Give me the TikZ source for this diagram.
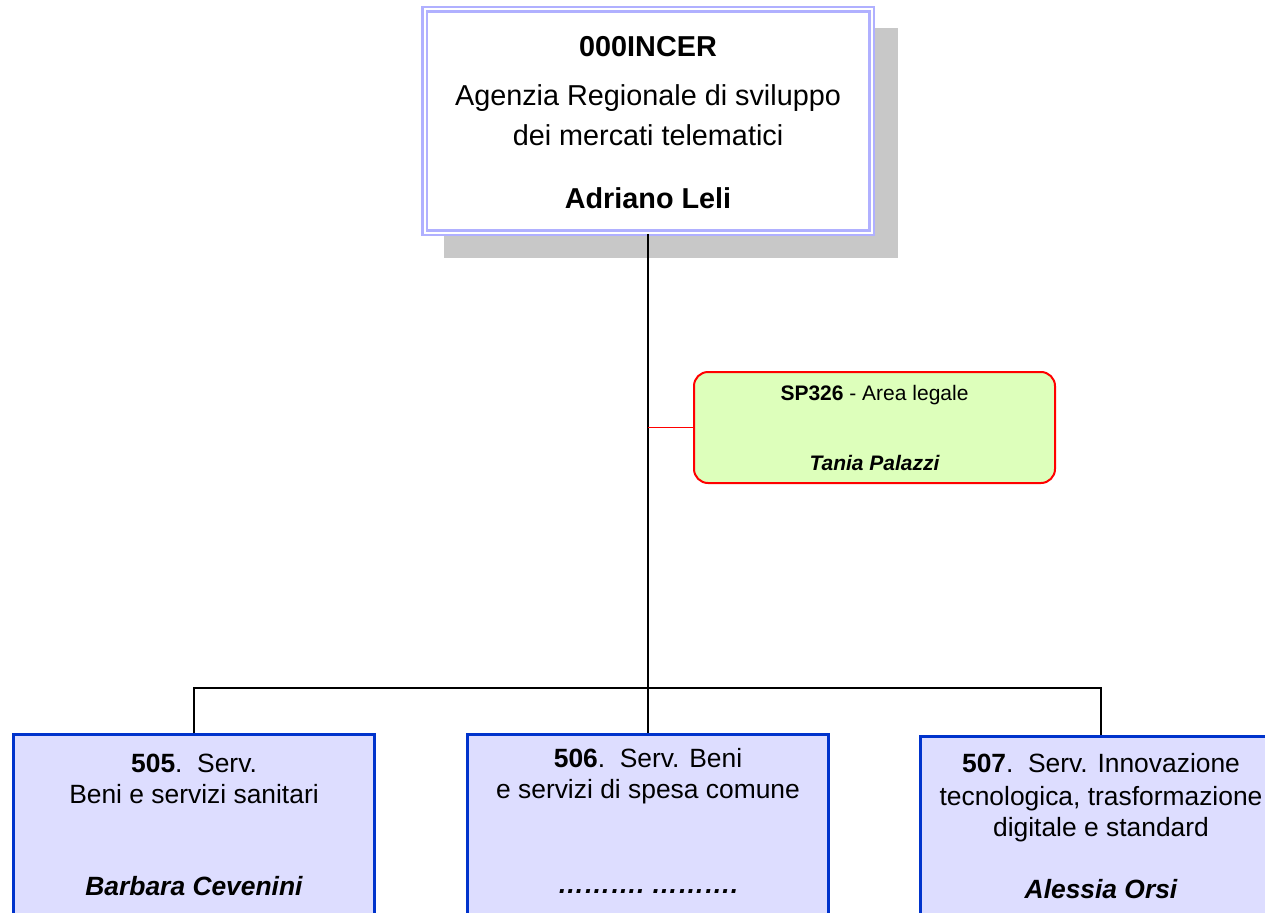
\documentclass[tikz,border=0pt]{standalone}
\usepackage{fontspec}
\setmainfont{Liberation Sans}
\definecolor{topline}{RGB}{176,176,255}
\definecolor{shadowgray}{RGB}{200,200,200}
\definecolor{legalfill}{RGB}{221,255,187}
\definecolor{legalline}{RGB}{255,0,0}
\definecolor{servline}{RGB}{0,51,204}
\definecolor{servfill}{RGB}{221,221,255}
\begin{document}
\begin{tikzpicture}[x=1pt,y=-1pt,
  shadowbox/.style={fill=shadowgray, minimum width=454pt, minimum height=230pt, inner sep=0pt},
  topbox/.style={draw=topline, double=white, double distance=2pt, line width=2.5pt, fill=white,
    minimum width=447pt, minimum height=223pt, inner sep=0pt},
  legalbox/.style={draw=legalline, line width=2pt, fill=legalfill, rounded corners=14pt,
    minimum width=361pt, minimum height=111pt, inner sep=0pt},
  servbox/.style={draw=servline, line width=3pt, fill=servfill,
    minimum width=361pt, minimum height=220pt, inner sep=0pt},
  toptxt/.style={anchor=base, inner sep=0pt, font=\fontsize{28.8}{34}\selectfont},
  legaltxt/.style={anchor=base, inner sep=0pt, font=\fontsize{21}{25}\selectfont},
  servtxt/.style={anchor=base, inner sep=0pt, font=\fontsize{26.4}{31}\selectfont},
  conn/.style={draw=black, line width=1.5pt},
  legalconn/.style={draw=legalline, line width=1.5pt}]
\useasboundingbox (0,0) rectangle (1265,912);

% top box with shadow
\node[shadowbox] (topshadow) at (671,143) {};
\node[topbox] (top) at (648,121) {};
\node[toptxt] (t1) at (648,57) {\bfseries 000INCER};
\node[toptxt] (t2) at (648,105.5) {Agenzia Regionale di sviluppo};
\node[toptxt] (t3) at (648,145.5) {dei mercati telematici};
\node[toptxt] (t4) at (648,208) {\bfseries Adriano Leli};

% staff box
\node[legalbox] (legal) at (874.5,427.5) {};
\node[legaltxt] (l1) at (874.5,400) {\bfseries SP326\mdseries{} - Area legale};
\node[legaltxt] (l2) at (874.5,470) {\bfseries\itshape Tania Palazzi};

% service boxes
\node[servbox] (s505) at (194,844.5) {};
\node[servbox] (s506) at (648,844.5) {};
\node[servbox] (s507) at (1101,846.5) {};

\node[servtxt] (a1) at (194,772) {\bfseries 505\mdseries.\ \ Serv.};
\node[servtxt] (a2) at (194,803) {Beni e servizi sanitari};
\node[servtxt] (a3) at (194,895) {\bfseries\itshape Barbara Cevenini};

\node[servtxt] (b1) at (648,767) {\bfseries 506\mdseries.\ \ Serv. Beni};
\node[servtxt] (b2) at (648,798) {e servizi di spesa comune};
\node[servtxt] (b3) at (648,893) {\bfseries\itshape ……….\ ……….};

\node[servtxt] (c1) at (1101,772) {\bfseries 507\mdseries.\ \ Serv. Innovazione};
\node[servtxt] (c2) at (1101,805) {tecnologica, trasformazione};
\node[servtxt] (c3) at (1101,836) {digitale e standard};
\node[servtxt] (c4) at (1101,898) {\bfseries\itshape Alessia Orsi};

% connectors
\coordinate (bar) at (648,688);
\coordinate (tap) at (648,427.5);
\path[conn] (top.south) -- (s506.north);
\path[conn] (s505.north) |- (bar) -| (s507.north);
\path[legalconn] (tap) -- (legal.west);
\end{tikzpicture}
\end{document}
